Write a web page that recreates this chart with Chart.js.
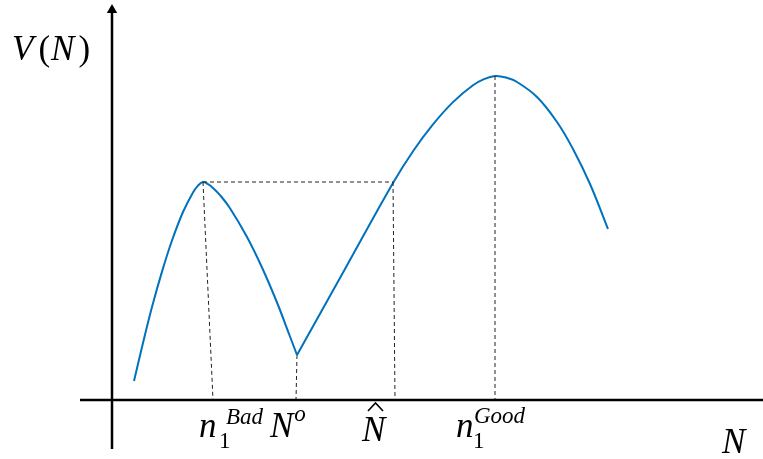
<!DOCTYPE html>
<html>
<head>
<meta charset="utf-8">
<script src="https://cdn.jsdelivr.net/npm/chart.js@4.4.1/dist/chart.umd.min.js"></script>
<style>
  html, body { margin: 0; padding: 0; background: #fff; }
  canvas { display: block; }
</style>
</head>
<body>
<canvas id="chart" width="763" height="459"></canvas>
<script>
// value function V(N), two pieces meeting at the kink N^o
var leftN  = [22, 31, 40, 50, 60, 71, 81, 86, 91, 96, 101, 108, 118, 135, 150, 165, 178, 185];
var leftV  = [19, 57, 93, 128.4, 159.5, 188, 207.6, 214.4, 218, 215.9, 212.1, 204.9, 191.8, 163, 132.5, 97.5, 63.5, 45];
var rightN = [185, 233, 281, 301, 321, 341, 361, 372, 383, 394, 405, 425, 445, 461, 478, 496];
var rightV = [45, 131, 217, 248.8, 275.6, 297.9, 314.7, 320.9, 324, 322.5, 318, 303, 278, 251, 216, 171];

// marked points on the curve and where the guide lines meet the N axis
var peakBad  = [91, 218];   var footBad  = 101;
var kink     = [185, 45];   var footKink = 184;
var hatPoint = [281, 218];  var footHat  = 283;
var peakGood = [383, 324];  var footGood = 383;

// axis extents
var xAxisFrom = -32, xAxisTo = 651;
var yAxisFrom = -49, yAxisTo = 390;

var blue = '#0072BD';

function pts(xs, ys) {
	var out = [];
	for (var i = 0; i < xs.length; i++) out.push({ x: xs[i], y: ys[i] });
	return out;
}

function dashed(a, b) {
	return {
		data: [a, b],
		borderColor: '#222',
		borderWidth: 1,
		borderDash: [4, 3],
		pointRadius: 0,
		fill: false,
		clip: false
	};
}

var datasets = [
	{ data: [{ x: xAxisFrom, y: 0 }, { x: xAxisTo, y: 0 }], borderColor: '#000', borderWidth: 2.5, pointRadius: 0, clip: false },
	{ data: [{ x: 0, y: yAxisFrom }, { x: 0, y: yAxisTo }], borderColor: '#000', borderWidth: 2.5, pointRadius: [0, 6],
	  pointStyle: 'triangle', pointBackgroundColor: '#000', pointBorderColor: '#000', pointBorderWidth: 0, clip: false },
	dashed({ x: peakBad[0], y: peakBad[1] }, { x: hatPoint[0], y: hatPoint[1] }),
	dashed({ x: peakBad[0], y: peakBad[1] }, { x: footBad, y: 0 }),
	dashed({ x: kink[0], y: kink[1] }, { x: footKink, y: 0 }),
	dashed({ x: hatPoint[0], y: hatPoint[1] }, { x: footHat, y: 0 }),
	dashed({ x: peakGood[0], y: peakGood[1] }, { x: footGood, y: 0 }),
	{ data: pts(leftN, leftV), borderColor: blue, borderWidth: 2, pointRadius: 0, tension: 0.4, clip: false },
	{ data: pts(rightN, rightV), borderColor: blue, borderWidth: 2, pointRadius: 0, tension: 0.4, clip: false }
];

//draw the math labels
var labelPlugin = {
	id: 'mathLabels',
	afterDraw: function (chart) {
		var ctx = chart.ctx;
		var main = 'italic 35px "Liberation Serif"';
		var mainUp = '35px "Liberation Serif"';
		var script = 'italic 23px "Liberation Serif"';
		var scriptUp = '23px "Liberation Serif"';
		ctx.save();
		ctx.fillStyle = '#000';
		ctx.textBaseline = 'alphabetic';
		ctx.textAlign = 'left';

		function put(txt, font, x, y) {
			ctx.font = font;
			ctx.fillText(txt, x, y);
			return x + ctx.measureText(txt).width;
		}

		// V(N)
		var x = put('V', main, 12, 60);
		x = put('(', mainUp, x + 5, 60);
		x = put('N', main, x + 1, 60);
		put(')', mainUp, x + 4, 60);

		// n_1^Bad
		put('n', main, 199, 437);
		put('1', scriptUp, 219, 448);
		put('Bad', script, 226, 424);

		// N^o
		x = put('N', main, 270, 437);
		put('o', script, x + 1, 421);

		// N hat
		put('N', main, 362, 441);
		ctx.beginPath();
		ctx.lineWidth = 1.6;
		ctx.strokeStyle = '#000';
		ctx.moveTo(368, 411);
		ctx.lineTo(375.5, 403);
		ctx.lineTo(383, 411);
		ctx.stroke();

		// n_1^Good
		put('n', main, 456, 437);
		put('1', scriptUp, 473, 448);
		put('Good', script, 474, 423);

		// axis name
		put('N', main, 722, 453);
		ctx.restore();
	}
};

new Chart(document.getElementById('chart'), {
	type: 'line',
	data: { datasets: datasets },
	options: {
		responsive: false,
		animation: false,
		events: [],
		layout: { padding: 0, autoPadding: false },
		plugins: { legend: { display: false }, tooltip: { enabled: false } },
		scales: {
			x: { type: 'linear', min: -112, max: 651, display: false },
			y: { type: 'linear', min: -59, max: 400, display: false }
		}
	},
	plugins: [labelPlugin]
});
</script>
</body>
</html>
